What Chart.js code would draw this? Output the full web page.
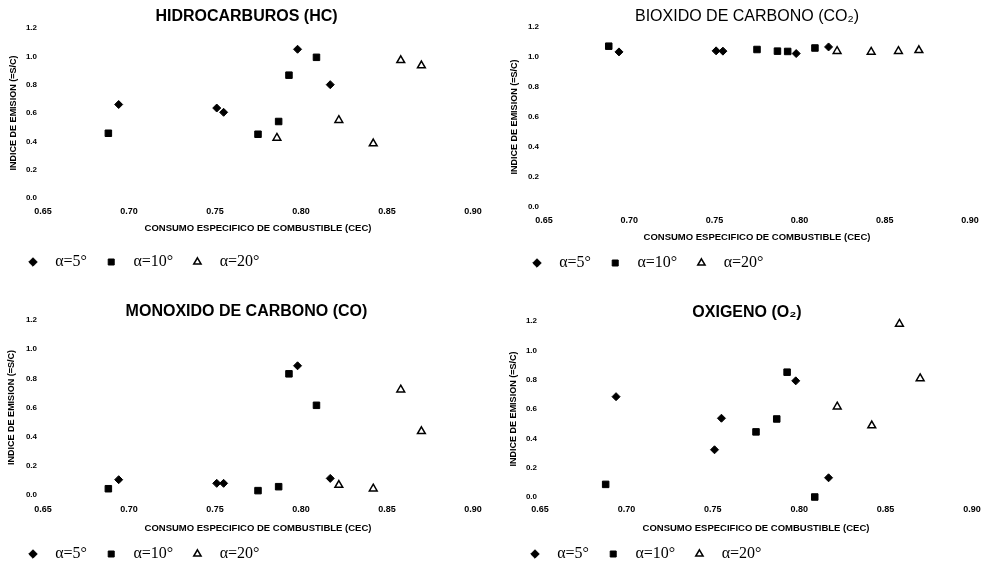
<!DOCTYPE html>
<html>
<head>
<meta charset="utf-8">
<script src="https://cdn.jsdelivr.net/npm/chart.js@4.4.1/dist/chart.umd.min.js"></script>
<style>
  html, body { margin: 0; padding: 0; background: #fff; }
  #wrap { position: relative; width: 994px; height: 576px; }
  .cell { position: absolute; width: 497px; height: 288px; }
</style>
</head>
<body>
<div id="wrap">
  <div class="cell" style="left:0;top:0"><canvas id="hc"></canvas></div>
  <div class="cell" style="left:497px;top:0"><canvas id="co2"></canvas></div>
  <div class="cell" style="left:0;top:288px"><canvas id="co"></canvas></div>
  <div class="cell" style="left:497px;top:288px"><canvas id="o2"></canvas></div>
</div>
<script>
// consumo especifico de combustible por angulo
const cec5 = [0.694, 0.751, 0.755, 0.798, 0.817];
const cec10 = [0.688, 0.775, 0.787, 0.793, 0.809];
const cec20 = [0.822, 0.842, 0.858, 0.870];
const cec20hc = [0.786, 0.822, 0.842, 0.858, 0.870];

// indices de emision
const hc5 = [0.66, 0.635, 0.605, 1.05, 0.80];
const hc10 = [0.457, 0.45, 0.54, 0.867, 0.993];
const hc20 = [0.424, 0.549, 0.384, 0.972, 0.935];

const co2_5 = [1.034, 1.041, 1.039, 1.023, 1.067];
const co2_10 = [1.072, 1.05, 1.039, 1.037, 1.06];
const co2_20 = [1.039, 1.034, 1.039, 1.045];

const co5 = [0.105, 0.08, 0.08, 0.886, 0.114];
const co10 = [0.043, 0.03, 0.057, 0.831, 0.615];
const co20 = [0.068, 0.043, 0.722, 0.437];

const o2_5 = [0.684, 0.322, 0.537, 0.792, 0.131];
const o2_10 = [0.086, 0.444, 0.532, 0.851, 0.0];
const o2_20 = [0.616, 0.487, 1.18, 0.808];

const angles = ['α=5°', 'α=10°', 'α=20°'];
const cecTicks = [0.65, 0.70, 0.75, 0.80, 0.85, 0.90];
const indexTicks = [0, 0.2, 0.4, 0.6, 0.8, 1.0, 1.2];

const sans = 'Liberation Sans, Arial, sans-serif';

function series(x, y) {
  return x.map((v, i) => ({ x: v, y: y[i] }));
}

function markers(a, b, c) {
  return [
    { label: angles[0], data: a, pointStyle: 'rectRot', pointRadius: 4,
      backgroundColor: '#000', borderColor: '#000', borderWidth: 1 },
    { label: angles[1], data: b, pointStyle: 'rect', pointRadius: 4.6,
      backgroundColor: '#000', borderColor: '#000', borderWidth: 1 },
    { label: angles[2], data: c, pointStyle: 'triangle', pointRadius: 4.5,
      backgroundColor: '#fff', borderColor: '#000', borderWidth: 1.5 }
  ].map(d => Object.assign(d, { clip: false }));
}

function panel(id, title, weight, datasets, lay) {
  new Chart(document.getElementById(id), {
    type: 'scatter',
    data: { datasets },
    options: {
      responsive: true,
      maintainAspectRatio: false,
      animation: false,
      layout: { padding: { left: lay.padL, right: lay.padR, top: 0, bottom: lay.padB } },
      plugins: {
        tooltip: { enabled: false },
        title: {
          display: true, text: title, color: '#000',
          font: { family: sans, size: 16, weight: weight },
          padding: { top: lay.tTop, bottom: lay.tBot }
        },
        legend: {
          position: 'bottom',
          align: 'start',
          labels: {
            usePointStyle: true,
            boxWidth: 6,
            boxHeight: 6,
            padding: 10,
            color: '#000',
            font: { family: 'Liberation Serif, Times New Roman, serif', size: 16 },
            generateLabels(chart) {
              const items = Chart.defaults.plugins.legend.labels.generateLabels(chart);
              items.forEach(it => { it.text = '\u2002\u2009' + it.text + '\u2002\u2009'; });
              return items;
            }
          }
        }
      },
      scales: {
        x: {
          type: 'linear', min: 0.65, max: 0.90,
          grid: { display: false, drawTicks: false },
          border: { display: false },
          afterBuildTicks: s => { s.ticks = cecTicks.map(v => ({ value: v })); },
          afterFit: s => { s.height = lay.xH; },
          ticks: {
            color: '#000', padding: lay.xTickPad,
            font: { family: sans, size: 9, weight: 'bold' },
            callback: v => v.toFixed(2)
          },
          title: {
            display: true, text: 'CONSUMO ESPECIFICO DE COMBUSTIBLE (CEC)', color: '#000',
            font: { family: sans, size: 9.5, weight: 'bold' },
            padding: { top: 0, bottom: lay.xTitlePad }
          }
        },
        y: {
          type: 'linear', min: 0, max: 1.2,
          grid: { display: false, drawTicks: false },
          border: { display: false },
          afterBuildTicks: s => { s.ticks = indexTicks.map(v => ({ value: v })); },
          afterFit: s => { s.width = lay.yW; },
          ticks: {
            color: '#000', padding: lay.yTickPad,
            font: { family: sans, size: 8, weight: 'bold' },
            callback: v => v.toFixed(1)
          },
          title: {
            display: true, text: 'INDICE DE EMISION (=S/C)', color: '#000',
            font: { family: sans, size: 9, weight: 'bold' },
            padding: { top: lay.yTitlePad, bottom: 0 }
          }
        }
      }
    }
  });
}

panel('hc', 'HIDROCARBUROS (HC)', 'bold',
  markers(series(cec5, hc5), series(cec10, hc10), series(cec20hc, hc20)),
  { padL: 20, padR: 24, padB: 8, tTop: 7.4, tBot: 1.4, xH: 46, xTickPad: 8.6,
    xTitlePad: 10.3, yW: 23, yTickPad: 6, yTitlePad: -11.4 });

panel('co2', 'BIOXIDO DE CARBONO (CO\u2082)', 'normal',
  markers(series(cec5, co2_5), series(cec10, co2_10), series(cec20, co2_20)),
  { padL: 27, padR: 24, padB: 7, tTop: 7.4, tBot: 0.4, xH: 38, xTickPad: 8.6,
    xTitlePad: 2.3, yW: 20, yTickPad: 5, yTitlePad: -14.4 });

panel('co', 'MONOXIDO DE CARBONO (CO)', 'bold',
  markers(series(cec5, co5), series(cec10, co10), series(cec20, co20)),
  { padL: 20, padR: 24, padB: 4, tTop: 14.4, tBot: -1.6, xH: 41, xTickPad: 9.6,
    xTitlePad: 2.3, yW: 23, yTickPad: 6, yTitlePad: -13.4 });

panel('o2', 'OXIGENO (O\u2082)', 'bold',
  markers(series(cec5, o2_5), series(cec10, o2_10), series(cec20, o2_20)),
  { padL: 25, padR: 22, padB: 4, tTop: 15.4, tBot: -1.6, xH: 39, xTickPad: 7.6,
    xTitlePad: 2.3, yW: 18, yTickPad: 3, yTitlePad: -13.4 });
</script>
</body>
</html>
